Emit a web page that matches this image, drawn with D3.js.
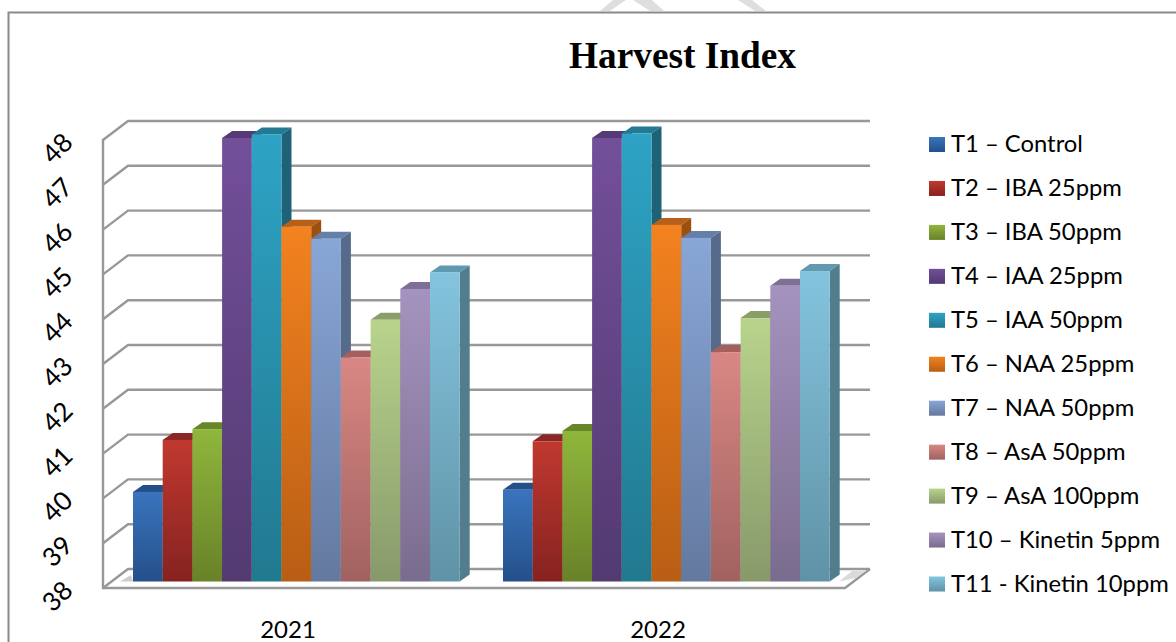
<!DOCTYPE html>
<html><head><meta charset="utf-8">
<script src="https://cdn.jsdelivr.net/npm/d3@7"></script>
<style>html,body{margin:0;padding:0;background:#fff;overflow:hidden}svg{display:block}</style>
</head><body><svg id="c" width="1176" height="642"></svg>
<script>
const title = "Harvest Index";
const years = ["2021","2022"];
const treatments = ["T1 – Control","T2 – IBA 25ppm","T3 – IBA 50ppm","T4 – IAA 25ppm","T5 – IAA 50ppm","T6 – NAA 25ppm","T7 – NAA 50ppm","T8 – AsA 50ppm","T9 – AsA 100ppm","T10 – Kinetin 5ppm","T11 - Kinetin 10ppm"];
const values2021 = [40.0,41.16,41.4,47.9,47.98,45.92,45.65,43.0,43.84,44.53,44.9];
const values2022 = [40.05,41.13,41.36,47.9,48.0,45.96,45.67,43.12,43.88,44.6,44.93];
const colorsTop = ["#3a74bd","#c0392f","#8fb63c","#734f9a","#2ea3c5","#f3821f","#88a6d6","#d98784","#b8d48c","#a593bf","#84c4de"];
const colorsBottom = ["#24508a","#862220","#688229","#533a71","#21798f","#b85e14","#64799f","#a06260","#87996a","#7a6c8e","#5f92a6"];
const colorsCap = ["#24508a","#8a2725","#67862a","#563a75","#237b93","#b8601a","#6480a8","#a5605e","#8a9e68","#806f94","#5f9ab0"];
const colorsSide = ["#1e4370","#6f1c1a","#55691f","#453060","#1e6278","#9c500f","#566a8a","#875250","#72825a","#67597a","#527d8c"];
const ticks = d3.range(38,49);

const svg = d3.select("#c");
const defs = svg.append("defs");
colorsTop.forEach((c,i)=>{
  const g = defs.append("linearGradient").attr("id","g"+i).attr("x1",0).attr("x2",0).attr("y1",0).attr("y2",1);
  g.append("stop").attr("offset",0).attr("stop-color",c);
  g.append("stop").attr("offset",1).attr("stop-color",colorsBottom[i]);
});

// faint watermark remnants above the frame
svg.append("g").attr("fill","#dedede").selectAll("path")
  .data(["M600,11L613,0H626L610,11Z","M633,0H652L664,11H650Z","M738,0H752L766,11H755Z"])
  .join("path").attr("d",d=>d);

// frame
svg.append("path").attr("d","M1176,12.5H8.5V642").attr("fill","none").attr("stroke","#8a8a8a").attr("stroke-width",2);
svg.append("text").text(title).attr("x",682.5).attr("y",68).attr("text-anchor","middle")
  .attr("font-family","'Liberation Serif'").attr("font-weight","bold").attr("font-size",37.3).attr("fill","#000");

// scales
const barDx=10, barDy=-7;
const x0=d3.scaleBand().domain(years).range([103,843]);
const yBack=d3.scaleLinear().domain([38,48]).range([569,121]);
const yFront=d3.scaleLinear().domain([38,48]).range([581.5,133.5]);
const yAxisS=d3.scaleLinear().domain([38,48]).range([588,140]);
const x1=d3.scaleBand().domain(d3.range(11)).range([0,326.7]);
const groupLeft=d=>x0(d)+30;

// wall gridlines
const grid=svg.append("g").attr("fill","none").attr("stroke","#989898").attr("stroke-width",2.4);
ticks.forEach(t=>{
  grid.append("path").attr("d",`M103,${yAxisS(t)}L128,${yBack(t)}H870`);
});
// floor
grid.append("path").attr("d",`M103,139V588H845L870,569`);
// floor shadow
svg.append("path").attr("d","M839,581.5L852,571H866L856,578Z").attr("fill","#dadada");
svg.append("path").attr("d","M133,581.5L120,581.5L131,575Z").attr("fill","#cccccc");

// bars
const series=[values2021,values2022];
years.forEach((yr,k)=>{
  const g=svg.append("g");
  series[k].forEach((v,i)=>{
    const x=groupLeft(yr)+x1(i), w=x1.bandwidth(), y=yFront(v), b=yFront(38);
    g.append("path").attr("d",`M${x},${y}l${barDx},${barDy}h${w}l${-barDx},${-barDy}Z`).attr("fill",colorsCap[i]);
    g.append("path").attr("d",`M${x+w},${y}l${barDx},${barDy}V${b+barDy}l${-barDx},${-barDy}Z`).attr("fill",colorsSide[i]);
    g.append("rect").attr("x",x).attr("y",y).attr("width",w).attr("height",b-y).attr("fill",`url(#g${i})`);
  });
});

// y axis labels
ticks.forEach(t=>{
  const y=yAxisS(t)+10;
  svg.append("text").text(t).attr("transform",`translate(59,${y}) rotate(-45)`)
    .attr("text-anchor","middle").attr("dominant-baseline","middle")
    .attr("font-family","Lato").attr("font-size",26).attr("fill","#000");
});
// x labels
years.forEach(yr=>{
  svg.append("text").text(yr).attr("x",x0(yr)+x0.bandwidth()/2).attr("y",638).attr("text-anchor","middle")
    .attr("font-family","Lato").attr("font-size",24).attr("fill","#000");
});
// legend
const ly=d3.scalePoint().domain(treatments).range([144.5,584]);
treatments.forEach((t,i)=>{
  svg.append("rect").attr("x",929).attr("y",ly(t)-7.5).attr("width",16).attr("height",15).attr("fill",`url(#g${i})`);
  svg.append("text").text(t).attr("x",951).attr("y",ly(t)+7.5)
    .attr("font-family","Lato").attr("font-size",23.8).attr("fill","#000");
});
</script></body></html>
